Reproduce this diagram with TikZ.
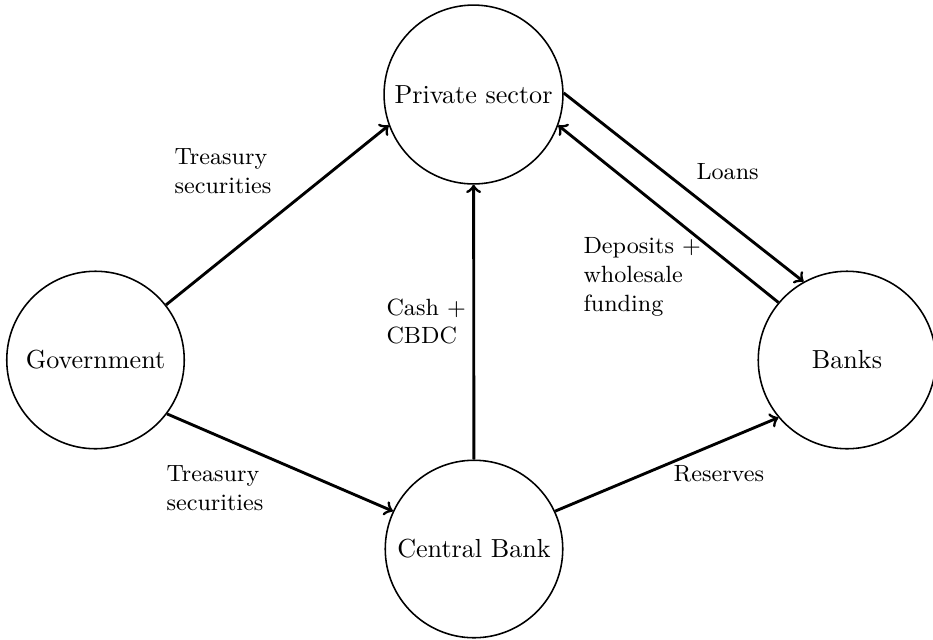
\documentclass[tikz,border=0pt]{standalone}
\begin{document}
\begin{tikzpicture}[x=0.3831pt,y=-0.3831pt,
  agent/.style={circle,draw,line width=0.6pt,minimum size=68pt,inner sep=0.3333em},
  flow/.style={->,line width=1.1pt},
  lbl/.style={font=\small,align=left,inner sep=0pt,anchor=north west}]
\useasboundingbox (0,0) rectangle (933,639);
\node[agent] (gov) at (95.5,360) {Government};
\node[agent] (priv) at (473.5,94.5) {Private sector};
\node[agent] (banks) at (847,360) {Banks};
\node[agent] (cb) at (474,549) {Central Bank};
\draw[flow] (gov.38) -- (priv.200);
\draw[flow] (gov.-37) -- (cb.155);
\draw[flow] (cb) -- (priv);
\draw[flow] (cb.25) -- (banks.220);
\draw[flow] (priv.1) -- (banks.119);
\draw[flow] (banks.140) -- (priv.-20);
\node[lbl] (l1) at (174,148) {Treasury\\securities};
\node[lbl] (l2) at (166,465) {Treasury\\securities};
\node[lbl] (l3) at (386,298) {Cash +\\CBDC};
\node[lbl] (l4) at (673,465) {Reserves};
\node[lbl] (l5) at (696,163) {Loans};
\node[lbl] (l6) at (583,237) {Deposits +\\wholesale\\funding};
\end{tikzpicture}
\end{document}
